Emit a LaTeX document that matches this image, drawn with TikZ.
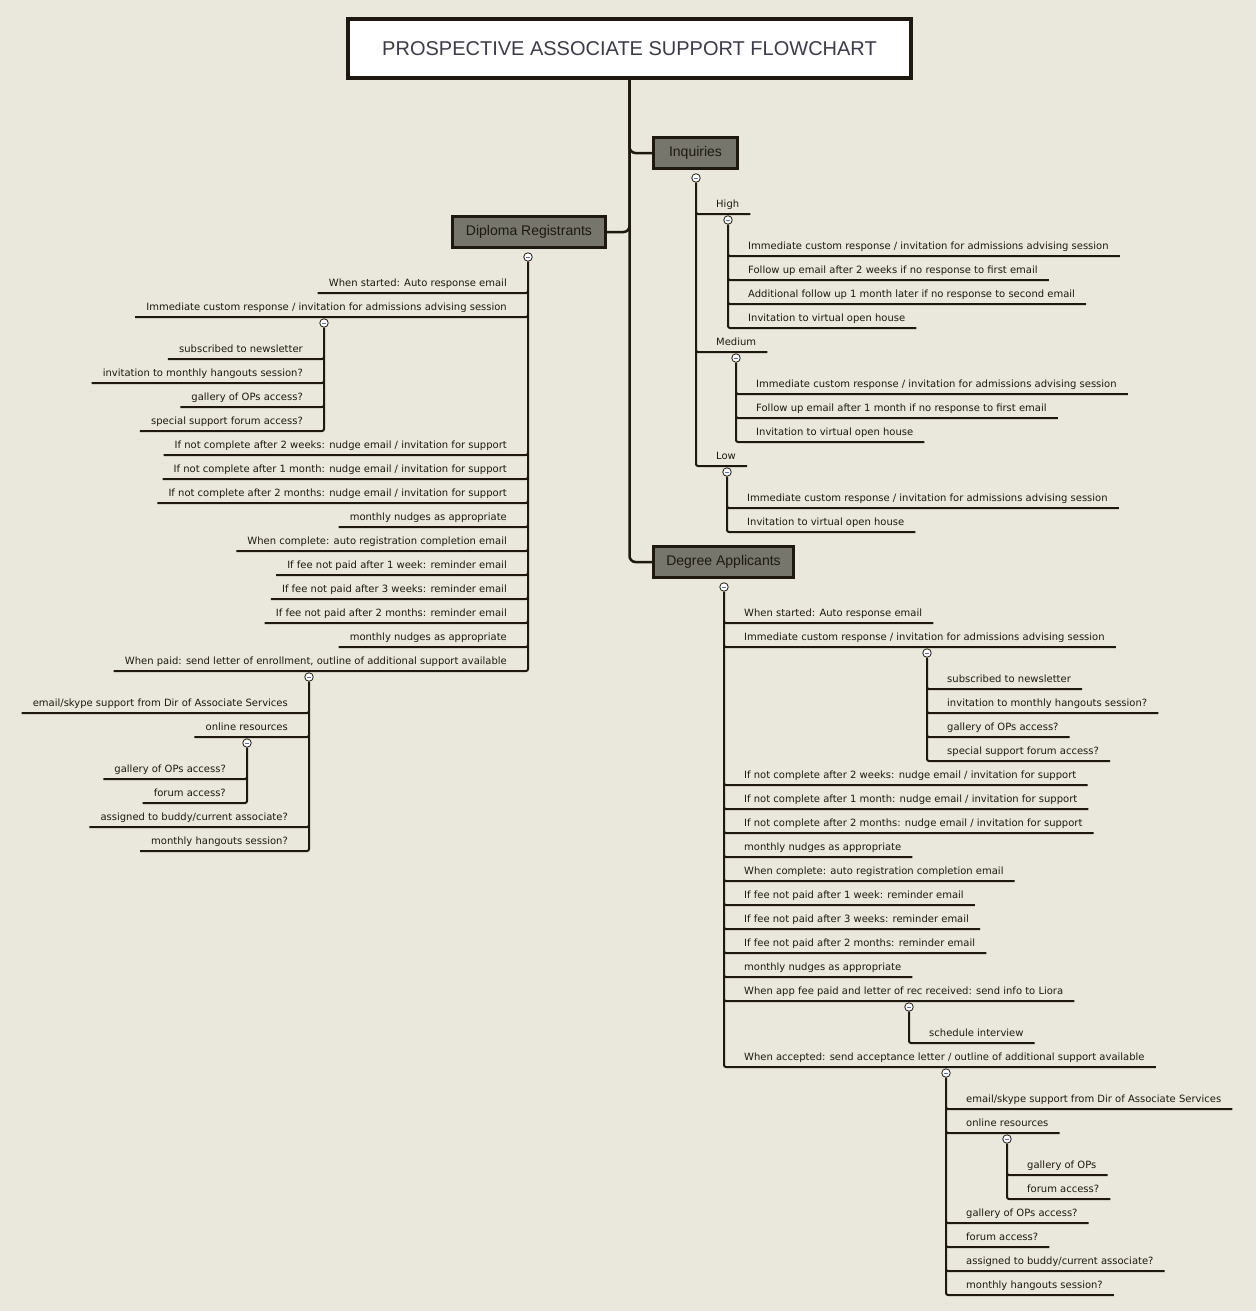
\documentclass[tikz,border=0pt]{standalone}
\usepackage{fontspec}
\usetikzlibrary{positioning}
\newfontfamily\leaffont{DejaVu Sans}
\newfontfamily\headfont{Liberation Sans}
\definecolor{paper}{HTML}{EAE8DC}
\definecolor{ink}{HTML}{1E1810}
\definecolor{slate}{HTML}{76766D}
\definecolor{titleInk}{HTML}{3B3B4A}
\definecolor{knobBlue}{HTML}{5A6FB0}

\begin{document}
\begin{tikzpicture}[x=1pt,y=-1pt,
  title/.style={draw=ink,line width=4pt,fill=white,minimum width=563pt,minimum height=59pt,
                font=\headfont\fontsize{20}{24}\selectfont,text=titleInk},
  topic/.style={draw=ink,line width=3pt,fill=slate,minimum height=31pt,inner xsep=0pt,
                font=\headfont\fontsize{14}{16}\selectfont,text=ink},
  leafR/.style={anchor=south west,font=\leaffont\fontsize{10}{12}\selectfont,text=ink,
                text height=8pt,text depth=2.5pt,inner xsep=11pt,inner ysep=3.5pt},
  leafL/.style={leafR,anchor=south east},
  knob/.style={circle,draw=ink,fill=white,line width=0.8pt,minimum size=8.5pt,inner sep=0pt,
               path picture={\draw[knobBlue,line width=0.7pt]
                 ([xshift=-2pt]path picture bounding box.center)--([xshift=2pt]path picture bounding box.center);}},
  twig/.style={draw=ink,line width=2pt,rounded corners=2pt},
  trunk/.style={draw=ink,line width=2.5pt,rounded corners=6pt}
]
  \fill[paper] (0,0) rectangle (1256,1311);
  \useasboundingbox (0,0) rectangle (1256,1311);

  \node[title] (root) at (629.5,48.5) {PROSPECTIVE ASSOCIATE SUPPORT FLOWCHART};
  \node[topic,minimum width=84pt] (inq) at (695.5,153) {Inquiries};
  \node[topic,minimum width=153pt] (dip) at (529,232) {Diploma Registrants};
  \node[topic,minimum width=140pt] (deg) at (723.5,562) {Degree Applicants};

  % inquiries
  \node[knob] (inqK) at (696,178) {};
  \node[leafR] (hi) at (705,214) {High};
  \node[knob] (hiK) at (728,220) {};
  \node[leafR] (hi1) at (737,256) {Immediate custom response / invitation for admissions advising session};
  \node[leafR] (hi2) at (737,280) {Follow up email after 2 weeks if no response to first email};
  \node[leafR] (hi3) at (737,304) {Additional follow up 1 month later if no response to second email};
  \node[leafR] (hi4) at (737,328) {Invitation to virtual open house};
  \node[leafR] (med) at (705,352) {Medium};
  \node[knob] (medK) at (736,358) {};
  \node[leafR] (med1) at (745,394) {Immediate custom response / invitation for admissions advising session};
  \node[leafR] (med2) at (745,418) {Follow up email after 1 month if no response to first email};
  \node[leafR] (med3) at (745,442) {Invitation to virtual open house};
  \node[leafR] (lo) at (705,466) {Low};
  \node[knob] (loK) at (727,472) {};
  \node[leafR] (lo1) at (736,508) {Immediate custom response / invitation for admissions advising session};
  \node[leafR] (lo2) at (736,532) {Invitation to virtual open house};

  % diploma registrants
  \node[knob] (dipK) at (528,257) {};
  \node[leafL] (d1) at (518,293) {When started: Auto response email};
  \node[leafL] (d2) at (518,317) {Immediate custom response / invitation for admissions advising session};
  \node[knob] (d2K) at (324,323) {};
  \node[leafL] (d2a) at (314,359) {subscribed to newsletter};
  \node[leafL] (d2b) at (314,383) {invitation to monthly hangouts session?};
  \node[leafL] (d2c) at (314,407) {gallery of OPs access?};
  \node[leafL] (d2d) at (314,431) {special support forum access?};
  \node[leafL] (d3) at (518,455) {If not complete after 2 weeks: nudge email / invitation for support};
  \node[leafL] (d4) at (518,479) {If not complete after 1 month: nudge email / invitation for support};
  \node[leafL] (d5) at (518,503) {If not complete after 2 months: nudge email / invitation for support};
  \node[leafL] (d6) at (518,527) {monthly nudges as appropriate};
  \node[leafL] (d7) at (518,551) {When complete: auto registration completion email};
  \node[leafL] (d8) at (518,575) {If fee not paid after 1 week: reminder email};
  \node[leafL] (d9) at (518,599) {If fee not paid after 3 weeks: reminder email};
  \node[leafL] (d10) at (518,623) {If fee not paid after 2 months: reminder email};
  \node[leafL] (d11) at (518,647) {monthly nudges as appropriate};
  \node[leafL] (d12) at (518,671) {When paid: send letter of enrollment, outline of additional support available};
  \node[knob] (d12K) at (309,677) {};
  \node[leafL] (d12a) at (299,713) {email/skype support from Dir of Associate Services};
  \node[leafL] (d12b) at (299,737) {online resources};
  \node[knob] (d12bK) at (247,743) {};
  \node[leafL] (d12b1) at (237,779) {gallery of OPs access?};
  \node[leafL] (d12b2) at (237,803) {forum access?};
  \node[leafL] (d12c) at (299,827) {assigned to buddy/current associate?};
  \node[leafL] (d12d) at (299,851) {monthly hangouts session?};

  % degree applicants
  \node[knob] (degK) at (724,587) {};
  \node[leafR] (g1) at (733,623) {When started: Auto response email};
  \node[leafR] (g2) at (733,647) {Immediate custom response / invitation for admissions advising session};
  \node[knob] (g2K) at (927,653) {};
  \node[leafR] (g2a) at (936,689) {subscribed to newsletter};
  \node[leafR] (g2b) at (936,713) {invitation to monthly hangouts session?};
  \node[leafR] (g2c) at (936,737) {gallery of OPs access?};
  \node[leafR] (g2d) at (936,761) {special support forum access?};
  \node[leafR] (g3) at (733,785) {If not complete after 2 weeks: nudge email / invitation for support};
  \node[leafR] (g4) at (733,809) {If not complete after 1 month: nudge email / invitation for support};
  \node[leafR] (g5) at (733,833) {If not complete after 2 months: nudge email / invitation for support};
  \node[leafR] (g6) at (733,857) {monthly nudges as appropriate};
  \node[leafR] (g7) at (733,881) {When complete: auto registration completion email};
  \node[leafR] (g8) at (733,905) {If fee not paid after 1 week: reminder email};
  \node[leafR] (g9) at (733,929) {If fee not paid after 3 weeks: reminder email};
  \node[leafR] (g10) at (733,953) {If fee not paid after 2 months: reminder email};
  \node[leafR] (g11) at (733,977) {monthly nudges as appropriate};
  \node[leafR] (g12) at (733,1001) {When app fee paid and letter of rec received: send info to Liora};
  \node[knob] (g12K) at (909,1007) {};
  \node[leafR] (g12a) at (918,1043) {schedule interview};
  \node[leafR] (g13) at (733,1067) {When accepted: send acceptance letter / outline of additional support available};
  \node[knob] (g13K) at (946,1073) {};
  \node[leafR] (g13a) at (955,1109) {email/skype support from Dir of Associate Services};
  \node[leafR] (g13b) at (955,1133) {online resources};
  \node[knob] (g13bK) at (1007,1139) {};
  \node[leafR] (g13b1) at (1016,1175) {gallery of OPs};
  \node[leafR] (g13b2) at (1016,1199) {forum access?};
  \node[leafR] (g13c) at (955,1223) {gallery of OPs access?};
  \node[leafR] (g13d) at (955,1247) {forum access?};
  \node[leafR] (g13e) at (955,1271) {assigned to buddy/current associate?};
  \node[leafR] (g13f) at (955,1295) {monthly hangouts session?};

  \draw[trunk] (root.south) |- (inq.west);
  \draw[trunk] (root.south) |- (dip.east);
  \draw[trunk] (root.south) |- (deg.west);

  \draw[twig] (inqK.south) |- (hi.south east) (inqK.south) |- (med.south east)
              (inqK.south) |- (lo.south east);
  \draw[twig] (hiK.south) |- (hi1.south east) (hiK.south) |- (hi2.south east)
              (hiK.south) |- (hi3.south east) (hiK.south) |- (hi4.south east);
  \draw[twig] (medK.south) |- (med1.south east) (medK.south) |- (med2.south east)
              (medK.south) |- (med3.south east);
  \draw[twig] (loK.south) |- (lo1.south east) (loK.south) |- (lo2.south east);

  \draw[twig] (dipK.south) |- (d1.south west) (dipK.south) |- (d2.south west)
              (dipK.south) |- (d3.south west) (dipK.south) |- (d4.south west)
              (dipK.south) |- (d5.south west) (dipK.south) |- (d6.south west)
              (dipK.south) |- (d7.south west) (dipK.south) |- (d8.south west)
              (dipK.south) |- (d9.south west) (dipK.south) |- (d10.south west)
              (dipK.south) |- (d11.south west) (dipK.south) |- (d12.south west);
  \draw[twig] (d2K.south) |- (d2a.south west) (d2K.south) |- (d2b.south west)
              (d2K.south) |- (d2c.south west) (d2K.south) |- (d2d.south west);
  \draw[twig] (d12K.south) |- (d12a.south west) (d12K.south) |- (d12b.south west)
              (d12K.south) |- (d12c.south west) (d12K.south) |- (d12d.south west);
  \draw[twig] (d12bK.south) |- (d12b1.south west) (d12bK.south) |- (d12b2.south west);

  \draw[twig] (degK.south) |- (g1.south east) (degK.south) |- (g2.south east)
              (degK.south) |- (g3.south east) (degK.south) |- (g4.south east)
              (degK.south) |- (g5.south east) (degK.south) |- (g6.south east)
              (degK.south) |- (g7.south east) (degK.south) |- (g8.south east)
              (degK.south) |- (g9.south east) (degK.south) |- (g10.south east)
              (degK.south) |- (g11.south east) (degK.south) |- (g12.south east)
              (degK.south) |- (g13.south east);
  \draw[twig] (g2K.south) |- (g2a.south east) (g2K.south) |- (g2b.south east)
              (g2K.south) |- (g2c.south east) (g2K.south) |- (g2d.south east);
  \draw[twig] (g12K.south) |- (g12a.south east);
  \draw[twig] (g13K.south) |- (g13a.south east) (g13K.south) |- (g13b.south east)
              (g13K.south) |- (g13c.south east) (g13K.south) |- (g13d.south east)
              (g13K.south) |- (g13e.south east) (g13K.south) |- (g13f.south east);
  \draw[twig] (g13bK.south) |- (g13b1.south east) (g13bK.south) |- (g13b2.south east);
\end{tikzpicture}
\end{document}
